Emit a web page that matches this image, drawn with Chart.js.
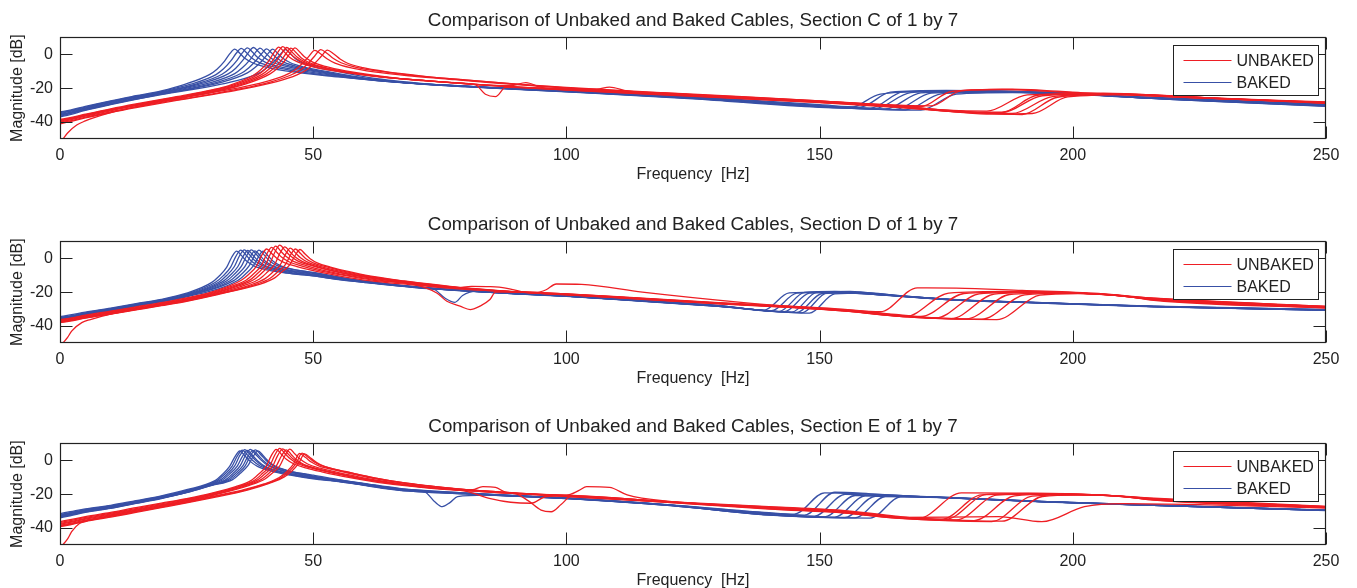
<!DOCTYPE html>
<html>
<head>
<meta charset="utf-8">
<script src="https://cdn.jsdelivr.net/npm/chart.js@4.4.1/dist/chart.umd.min.js"></script>
<style>
  html, body { margin: 0; padding: 0; background: #fff; width: 1357px; height: 588px; overflow: hidden; }
  .panel { position: absolute; left: 0; width: 1357px; height: 187px; }
</style>
</head>
<body>
<div class="panel" style="top:0px"><canvas id="sectionC" width="1357" height="187"></canvas></div>
<div class="panel" style="top:204px"><canvas id="sectionD" width="1357" height="187"></canvas></div>
<div class="panel" style="top:406px"><canvas id="sectionE" width="1357" height="187"></canvas></div>
<script>
// Axis text and ticks
const SECTION_TITLES = [
  'Comparison of Unbaked and Baked Cables, Section C of 1 by 7',
  'Comparison of Unbaked and Baked Cables, Section D of 1 by 7',
  'Comparison of Unbaked and Baked Cables, Section E of 1 by 7'
];
const X_LABEL = 'Frequency  [Hz]';
const Y_LABEL = 'Magnitude [dB]';
const FREQ_TICKS = [0, 50, 100, 150, 200, 250];
const MAG_TICKS = [-40, -20, 0];
const FREQ_RANGE = [0, 250];
const MAG_RANGE = [-50, 10];
const SERIES_NAMES = ['UNBAKED', 'BAKED'];

// Measured responses: each curve is a flat list of frequency [Hz], magnitude [dB] pairs

// Section C
const SECTION_C_UNBAKED = [
  [0,-38.5, 2,-37.4, 5,-35.4, 10,-32.2, 15,-29.3, 20,-26.6, 25,-24.0, 30,-21.0, 33.2,-18.6, 38.2,-12.4, 39.7,-9.0, 41.2,-4.0, 42.2,0.8, 43.2,4.2, 44.2,1.6, 45.2,-1.4, 46.7,-4.2, 49.2,-6.8, 53.2,-9.4, 62,-13.0, 70,-15.0, 78,-16.8, 82,-18.0, 84,-23.6, 86,-25.0, 88,-19.6, 100,-20.4, 125,-24.0, 150,-27.8, 165,-30.8, 180,-34.0, 186,-34.2, 193,-24.2, 206,-23.0, 222,-25.2, 250,-28.2],
  [0,-39, 2,-37.9, 5,-35.8, 10,-32.6, 15,-29.7, 20,-27.0, 25,-24.4, 30,-21.4, 34,-18.4, 39,-12.2, 40.5,-8.8, 42,-3.8, 43,1.1, 44,4.5, 45,1.9, 46,-1.1, 47.5,-4.0, 50,-6.6, 54,-9.2, 63,-13.2, 71,-15.3, 81,-17.6, 89,-18.6, 92,-16.8, 95,-19.6, 100,-20.6, 125,-24.2, 150,-28.0, 165,-30.5, 175,-33.0, 183,-33.6, 191,-24.0, 205,-23.2, 222,-25.4, 250,-28.4],
  [0,-39.5, 2,-38.3, 5,-36.2, 10,-33.0, 15,-30.0, 20,-27.3, 25,-24.7, 30,-21.8, 34.8,-18.2, 39.8,-12.0, 41.3,-8.7, 42.8,-3.9, 43.8,0.6, 44.8,4.0, 45.8,1.4, 46.8,-1.6, 48.3,-4.4, 50.8,-7.0, 54.8,-9.6, 64,-13.5, 72,-15.6, 82,-17.8, 100,-20.8, 106,-20.6, 108.5,-19.4, 112,-21.6, 125,-24.4, 150,-28.2, 165,-30.8, 178,-34.2, 186,-34.5, 194,-24.5, 208,-23.4, 224,-25.6, 250,-28.6],
  [0,-40, 2,-38.7, 5,-36.6, 10,-33.4, 15,-30.4, 20,-27.7, 25,-25.1, 30,-22.2, 35.6,-18.0, 40.6,-11.9, 42.1,-8.6, 43.6,-4.0, 44.6,0.3, 45.6,3.6, 46.6,1.0, 47.6,-2.0, 49.1,-4.7, 51.6,-7.3, 55.6,-9.9, 65,-13.8, 73,-15.9, 83,-18.0, 100,-21.0, 125,-24.6, 150,-28.4, 165,-31.0, 180,-34.6, 188,-35.0, 196,-25.0, 210,-23.6, 226,-25.8, 250,-28.8],
  [0.6,-50, 1.5,-46.5, 3.3,-41.8, 5,-39.4, 6.6,-37.6, 10,-34.5, 15,-31.0, 20,-28.0, 25,-25.4, 30,-22.5, 36.4,-17.8, 41.4,-11.7, 42.9,-8.4, 44.4,-3.8, 45.4,0.4, 46.4,3.8, 47.4,1.2, 48.4,-1.8, 49.9,-4.6, 52.4,-7.2, 56.4,-9.8, 66,-13.9, 74,-16.0, 84,-18.2, 100,-21.1, 125,-24.8, 150,-28.6, 165,-31.4, 176,-33.8, 184,-35.4, 192,-35.0, 199,-25.2, 212,-23.8, 228,-26.0, 250,-29.0],
  [0,-39, 2,-37.9, 5,-35.9, 10,-32.8, 15,-30.0, 20,-27.4, 25,-25.0, 30,-22.6, 35,-20.0, 40.3,-16.5, 44.3,-12.6, 46.3,-9.4, 47.8,-5.6, 49.1,-1.4, 50.3,2.3, 51.5,0.2, 52.8,-2.8, 54.3,-5.2, 57.3,-7.9, 62,-10.4, 70,-13.0, 78,-15.0, 86,-17.0, 100,-20.0, 125,-24.0, 150,-27.8, 162,-29.6, 170,-31.0, 176,-22.0, 186,-20.8, 200,-22.6, 220,-25.2, 250,-28.4],
  [0,-40.5, 2,-39.3, 5,-37.2, 10,-34.0, 15,-31.1, 20,-28.4, 25,-26.0, 30,-23.5, 35,-20.8, 41.5,-16.4, 45.5,-12.4, 47.5,-9.2, 49,-5.4, 50.3,-1.0, 51.5,2.8, 52.7,0.6, 54,-2.5, 55.5,-5.0, 58.5,-7.7, 63,-10.0, 71,-12.9, 80,-15.2, 90,-17.6, 100,-19.6, 125,-23.6, 150,-27.5, 163,-29.8, 172,-30.5, 178,-21.5, 188,-20.6, 202,-22.8, 222,-25.4, 250,-28.6],
  [0,-41, 2,-39.8, 5,-37.6, 10,-34.4, 15,-31.5, 20,-28.8, 25,-26.3, 30,-23.8, 35,-21.2, 42.8,-16.2, 46.8,-12.2, 48.8,-9.0, 50.3,-5.3, 51.6,-1.2, 52.8,2.4, 54,0.3, 55.3,-2.8, 56.8,-5.3, 59.8,-7.9, 64,-10.1, 72,-13.0, 81,-15.4, 91,-17.8, 100,-19.8, 125,-23.8, 150,-27.6, 165,-30.6, 180,-34.2, 190,-35.6, 197,-25.4, 210,-23.6, 226,-25.6, 250,-28.8]
];
const SECTION_C_BAKED = [
  [0,-34, 2,-33, 5,-30.8, 10,-27.5, 15,-24.5, 20,-21.6, 24.5,-17.9, 29.5,-12.0, 31,-8.8, 32.5,-4.0, 33.5,0.2, 34.5,3.0, 35.5,0.6, 36.5,-2.4, 38,-5.0, 40.5,-7.4, 44.5,-9.8, 55,-13.4, 65,-16.2, 75,-18.0, 85,-19.6, 100,-21.3, 125,-25.0, 150,-29.8, 158,-31.2, 164,-22.4, 175,-21.4, 195,-22.4, 215,-25.4, 250,-29.4],
  [0,-34.5, 2,-33.4, 5,-31.2, 10,-27.9, 15,-24.9, 20,-22.0, 25.8,-17.7, 30.8,-12.0, 32.3,-8.6, 33.8,-3.6, 34.8,0.6, 35.8,3.5, 36.8,1.0, 37.8,-2.0, 39.3,-4.8, 41.8,-7.2, 45.8,-9.6, 56,-13.5, 66,-16.4, 76,-18.2, 86,-19.8, 100,-21.5, 125,-25.3, 150,-30.2, 160,-31.8, 166.5,-22.2, 178,-21.5, 196,-22.7, 215,-25.7, 250,-29.7],
  [0,-35, 2,-33.8, 5,-31.6, 10,-28.2, 15,-25.2, 20,-22.4, 27,-17.5, 32,-11.8, 33.5,-8.4, 35,-3.4, 36,0.8, 37,3.8, 38,1.3, 39,-1.8, 40.5,-4.6, 43,-7.0, 47,-9.4, 57,-13.6, 67,-16.6, 77,-18.4, 87,-20.0, 100,-21.7, 125,-25.5, 150,-30.5, 161,-32.0, 168,-22.6, 180,-21.8, 197,-23.0, 216,-26.0, 250,-30.0],
  [0,-35.5, 2,-34.3, 5,-32.0, 10,-28.6, 15,-25.5, 20,-22.7, 28.2,-17.1, 33.2,-11.6, 34.7,-8.2, 36.2,-3.2, 37.2,1.0, 38.2,4.0, 39.2,1.5, 40.2,-1.6, 41.7,-4.4, 44.2,-6.8, 48.2,-9.2, 58,-13.7, 68,-16.8, 78,-18.6, 88,-20.2, 100,-21.8, 125,-25.7, 150,-30.7, 163,-32.3, 170,-22.8, 182,-22.0, 198,-23.2, 217,-26.2, 250,-30.2],
  [0,-36, 2,-34.7, 5,-32.4, 10,-29.0, 15,-25.9, 20,-23.0, 29.5,-16.9, 34.5,-11.4, 36,-8.0, 37.5,-3.3, 38.5,0.7, 39.5,3.6, 40.5,1.1, 41.5,-1.9, 43,-4.6, 45.5,-7.0, 49.5,-9.4, 59,-13.9, 69,-17.0, 79,-18.8, 89,-20.4, 100,-22.0, 125,-25.9, 150,-30.9, 165,-32.6, 172,-23.0, 184,-22.2, 199,-23.4, 218,-26.4, 250,-30.4],
  [0,-36.5, 2,-35.1, 5,-32.8, 10,-29.4, 15,-26.2, 20,-23.3, 30.8,-16.7, 35.8,-11.2, 37.3,-7.9, 38.8,-3.4, 39.8,0.3, 40.8,3.2, 41.8,0.7, 42.8,-2.2, 44.3,-4.8, 46.8,-7.2, 50.8,-9.6, 60,-14.2, 70,-17.3, 80,-19.1, 90,-20.6, 100,-22.1, 125,-26.1, 150,-31.1, 167,-32.8, 174,-23.4, 186,-22.4, 200,-23.6, 219,-26.6, 250,-30.6],
  [0,-37, 2,-35.6, 5,-33.2, 10,-29.8, 15,-26.6, 20,-23.6, 32,-16.5, 37,-11.0, 38.5,-7.8, 40,-3.5, 41,0.1, 42,3.0, 43,0.5, 44,-2.4, 45.5,-5.0, 48,-7.4, 52,-9.8, 61,-14.4, 71,-17.5, 81,-19.3, 91,-20.8, 100,-22.2, 125,-26.3, 150,-31.3, 156,-31.6, 162,-23.5, 176,-21.8, 194,-22.6, 214,-25.4, 250,-29.6],
  [0,-36, 2,-34.7, 5,-32.6, 10,-29.4, 15,-26.5, 20,-23.8, 34.5,-15.9, 39.5,-10.8, 41,-7.6, 42.5,-3.6, 43.5,-0.1, 44.5,2.8, 45.5,0.3, 46.5,-2.6, 48,-5.2, 50.5,-7.6, 54.5,-10.0, 63,-14.6, 73,-17.6, 83,-19.4, 93,-21.0, 100,-21.9, 125,-26.0, 150,-31.0, 170,-33.0, 177,-23.5, 188,-22.6, 201,-23.8, 220,-26.8, 250,-30.8]
];

// Section D
const SECTION_D_UNBAKED = [
  [0,-36.2, 2,-35.3, 5,-33.6, 10,-31.2, 15,-28.7, 20,-26.2, 25,-23.4, 30,-19.8, 35.8,-13.0, 37.3,-9.4, 38.8,-4.6, 39.8,1.6, 40.8,5.5, 41.8,2.8, 42.8,0.0, 44.3,-2.6, 46.8,-4.9, 49.8,-7.2, 54.8,-10.2, 61,-13.2, 70,-15.8, 80,-18.4, 90,-19.8, 100,-21.0, 115,-23.6, 130,-26.2, 145,-28.4, 155,-30.2, 165,-33.2, 170,-34.4, 178.5,-20.8, 190,-19.8, 205,-21.2, 216,-23.8, 250,-28.6],
  [0,-36.6, 2,-35.7, 5,-34.0, 10,-31.6, 15,-29.1, 20,-26.6, 25,-23.8, 30,-20.3, 33.8,-16.6, 36.8,-12.8, 38.3,-9.0, 39.8,-4.2, 40.8,2.4, 41.8,6.5, 42.8,3.6, 43.8,0.6, 45.3,-2.2, 47.8,-4.6, 50.8,-7.0, 55.8,-10.0, 62,-13.0, 70,-15.6, 74.4,-20.5, 76.4,-25.4, 79,-28.3, 81,-30.3, 82.9,-28.3, 84.9,-24.4, 86,-20.0, 90,-19.8, 100,-21.1, 115,-23.7, 130,-26.4, 145,-28.6, 155,-30.4, 165,-33.6, 173,-35.2, 181.5,-21.0, 192,-20.0, 206,-21.4, 216,-24.0, 250,-28.8],
  [0,-37, 2,-36.1, 5,-34.4, 10,-32.0, 15,-29.5, 20,-27.0, 25,-24.2, 30,-20.8, 34.6,-16.4, 37.6,-12.6, 39.1,-8.7, 40.6,-3.8, 41.6,3.0, 42.6,7.2, 43.6,4.2, 44.6,1.2, 46.1,-1.8, 48.6,-4.3, 51.6,-6.8, 56.6,-9.9, 63,-12.9, 72,-16.0, 78,-17.6, 81.3,-16.6, 85,-16.8, 88,-17.6, 92,-20.2, 100,-21.2, 115,-23.8, 130,-26.5, 145,-28.8, 155,-30.6, 162,-31.6, 169.3,-17.5, 177,-17.6, 190,-19.0, 205,-20.8, 216,-23.6, 250,-28.4],
  [0,-37.4, 2,-36.5, 5,-34.8, 10,-32.4, 15,-29.9, 20,-27.4, 25,-24.6, 30,-21.2, 35.4,-16.2, 38.4,-12.4, 39.9,-8.5, 41.4,-3.5, 42.4,3.4, 43.4,7.8, 44.4,4.8, 45.4,1.6, 46.9,-1.5, 49.4,-4.1, 52.4,-6.6, 57.4,-9.8, 64,-12.8, 73,-16.0, 84,-19.0, 94,-20.2, 96,-18.6, 98,-15.2, 103,-15.4, 115,-20.0, 135,-26.2, 145,-28.7, 155,-30.8, 165,-33.8, 176,-35.6, 184.5,-21.2, 194,-20.2, 207,-21.6, 216,-24.2, 250,-29.0],
  [0.6,-50, 1.5,-46.8, 2.3,-43.0, 4.3,-38.0, 6,-36.2, 10,-33.0, 15,-30.2, 20,-27.6, 25,-24.9, 30,-21.6, 36.4,-16.0, 39.4,-12.2, 40.9,-8.3, 42.4,-3.6, 43.4,2.8, 44.4,6.8, 45.4,3.9, 46.4,0.9, 47.9,-2.0, 50.4,-4.6, 53.4,-7.0, 58.4,-10.1, 65,-13.0, 74,-16.2, 85,-19.0, 100,-21.3, 115,-23.9, 130,-26.6, 145,-28.9, 155,-30.9, 168,-34.4, 179,-35.8, 187.5,-21.4, 197,-20.4, 208,-21.8, 216,-24.4, 250,-29.2],
  [0,-37.8, 2,-36.9, 5,-35.2, 10,-32.8, 15,-30.3, 20,-27.8, 25,-25.1, 30,-21.9, 37.5,-15.8, 40.5,-12.0, 42,-8.2, 43.5,-3.8, 44.5,2.2, 45.5,6.0, 46.5,3.2, 47.5,0.3, 49,-2.4, 51.5,-4.9, 54.5,-7.2, 59.5,-10.3, 66,-13.1, 75,-16.3, 86,-19.1, 100,-21.4, 115,-24.0, 130,-26.7, 145,-29.0, 155,-31.0, 168,-34.8, 182,-36.0, 190.5,-21.6, 199,-20.6, 209,-22.0, 216,-24.6, 250,-29.3],
  [0,-38, 2,-37.1, 5,-35.4, 10,-33.0, 15,-30.5, 20,-28.0, 25,-25.4, 30,-22.2, 38.5,-15.6, 41.5,-11.8, 43,-8.0, 44.5,-3.8, 45.5,1.8, 46.5,5.5, 47.5,2.8, 48.5,-0.1, 50,-2.7, 52.5,-5.0, 55.5,-7.3, 60.5,-10.4, 67,-13.2, 76,-16.4, 87,-19.2, 100,-21.5, 115,-24.1, 130,-26.8, 145,-29.1, 155,-31.1, 167,-34.6, 185,-36.2, 193.5,-21.8, 201,-20.8, 210,-22.2, 216,-24.8, 250,-29.4],
  [0,-37.2, 2,-36.3, 5,-34.6, 10,-32.2, 15,-29.8, 20,-27.4, 25,-24.9, 30,-21.8, 39.4,-15.4, 42.4,-11.6, 43.9,-7.8, 45.4,-3.7, 46.4,1.5, 47.4,5.2, 48.4,2.5, 49.4,-0.3, 50.9,-2.9, 53.4,-5.2, 56.4,-7.5, 61.4,-10.6, 68,-13.4, 77,-16.6, 88,-19.4, 100,-21.6, 115,-24.2, 130,-26.9, 145,-29.2, 155,-31.2, 163,-33.6, 167,-34.4, 175.5,-20.6, 188,-19.6, 204,-21.0, 216,-23.6, 250,-28.4]
];
const SECTION_D_BAKED = [
  [0,-34.5, 2,-33.5, 5,-31.8, 10,-29.4, 15,-26.8, 20,-24.3, 25,-20.6, 29.9,-14.4, 31.4,-10.6, 32.9,-5.4, 33.9,0.6, 34.9,4.2, 35.9,1.4, 36.9,-1.8, 38.4,-4.6, 40.9,-6.9, 44.9,-8.8, 50,-10.4, 55,-12.6, 60,-14.2, 70,-17.2, 80,-19.2, 90,-20.8, 100,-22.1, 115,-24.9, 130,-27.8, 139,-30.6, 144,-20.4, 151,-20.0, 160,-21.2, 176,-24.3, 195,-26.3, 216,-28.3, 250,-30.3],
  [0,-35, 2,-34, 5,-32.2, 10,-29.7, 15,-27.1, 20,-24.6, 25,-21.1, 30.7,-14.2, 32.2,-10.4, 33.7,-5.2, 34.7,1.0, 35.7,4.8, 36.7,2.0, 37.7,-1.4, 39.2,-4.3, 41.7,-6.7, 45.7,-9.0, 50,-10.4, 55,-12.4, 60,-14.2, 70,-17.3, 80,-19.3, 90,-20.9, 100,-22.2, 115,-25.0, 130,-28.0, 140.5,-31.0, 145.5,-20.6, 152,-20.2, 161,-21.4, 176,-24.4, 195,-26.4, 216,-28.4, 250,-30.4],
  [0,-35.3, 2,-34.3, 5,-32.5, 10,-30.0, 15,-27.4, 20,-24.9, 25,-21.5, 31.4,-14.0, 32.9,-10.2, 34.4,-5.0, 35.4,1.2, 36.4,5.0, 37.4,2.2, 38.4,-1.2, 39.9,-4.2, 42.4,-6.6, 46.4,-8.8, 50,-10.1, 55,-12.2, 60,-14.0, 70,-17.0, 74,-18.6, 76,-23.5, 78,-26.0, 79.5,-22.0, 82,-19.6, 90,-20.9, 100,-22.3, 115,-25.1, 130,-28.1, 142,-31.4, 147,-20.2, 153,-19.6, 162,-21.6, 176,-24.4, 195,-26.4, 216,-28.5, 250,-30.5],
  [0,-35.6, 2,-34.6, 5,-32.8, 10,-30.3, 15,-27.7, 20,-25.1, 25,-21.8, 32.1,-13.8, 33.6,-10.0, 35.1,-5.0, 36.1,0.8, 37.1,4.6, 38.1,1.8, 39.1,-1.5, 40.6,-4.4, 43.1,-6.6, 47.1,-8.7, 50,-9.8, 55,-12.0, 60,-13.9, 70,-17.1, 80,-19.3, 90,-21.0, 100,-22.4, 115,-25.2, 130,-28.2, 143,-31.6, 148,-20.6, 154,-20.2, 163,-21.8, 176,-24.4, 195,-26.5, 216,-28.6, 250,-30.6],
  [0,-35.8, 2,-34.8, 5,-33.0, 10,-30.5, 15,-27.9, 20,-25.3, 25,-22.1, 32.8,-13.6, 34.3,-9.8, 35.8,-4.8, 36.8,1.2, 37.8,5.0, 38.8,2.2, 39.8,-1.1, 41.3,-4.1, 43.8,-6.4, 47.8,-8.5, 50,-9.4, 55,-11.8, 60,-13.8, 70,-17.0, 80,-19.2, 90,-21.0, 100,-22.4, 115,-25.3, 130,-28.3, 144.5,-31.8, 149.5,-20.0, 156,-19.6, 164,-21.9, 176,-24.5, 195,-26.5, 216,-28.6, 250,-30.6],
  [0,-36, 2,-35.0, 5,-33.2, 10,-30.7, 15,-28.1, 20,-25.5, 25,-22.4, 33.5,-13.4, 35,-9.7, 36.5,-4.9, 37.5,0.6, 38.5,4.4, 39.5,1.6, 40.5,-1.6, 42,-4.4, 44.5,-6.5, 48.5,-8.4, 50,-9.0, 55,-11.6, 60,-13.6, 70,-16.9, 80,-19.2, 90,-21.0, 100,-22.5, 115,-25.4, 130,-28.4, 145.5,-32.0, 150.5,-20.8, 157,-20.4, 165,-22.0, 176,-24.5, 195,-26.6, 216,-28.7, 250,-30.7],
  [0,-35.5, 2,-34.5, 5,-32.7, 10,-30.2, 15,-27.6, 20,-25.1, 25,-22.2, 34.3,-13.2, 35.8,-9.5, 37.3,-4.7, 38.3,1.0, 39.3,4.8, 40.3,2.0, 41.3,-1.3, 42.8,-4.2, 45.3,-6.3, 49.3,-8.2, 55,-11.3, 60,-13.5, 70,-16.8, 80,-19.0, 90,-20.8, 100,-22.3, 115,-25.2, 130,-28.3, 146.5,-32.2, 151.5,-20.4, 158,-20.2, 166,-22.2, 176,-24.4, 195,-26.4, 216,-28.4, 250,-30.4],
  [0,-36.2, 2,-35.2, 5,-33.4, 10,-30.9, 15,-28.3, 20,-25.7, 25,-22.8, 35.1,-13.1, 36.6,-9.4, 38.1,-4.8, 39.1,0.4, 40.1,4.2, 41.1,1.4, 42.1,-1.8, 43.6,-4.5, 46.1,-6.5, 50.1,-8.4, 55,-11.0, 60,-13.4, 70,-16.8, 80,-19.1, 90,-20.9, 100,-22.4, 115,-25.3, 130,-28.4, 148,-32.4, 153,-21.0, 159,-20.6, 167,-22.4, 176,-24.5, 195,-26.6, 216,-28.6, 250,-30.6]
];

// Section E
const SECTION_E_UNBAKED = [
  [0,-36.2, 2,-35.1, 5,-33.3, 10,-30.8, 15,-28.0, 20,-25.3, 25,-22.6, 30,-19.4, 34.7,-15.6, 37.7,-12.0, 39.2,-8.2, 40.7,-3.6, 41.7,2.6, 42.7,6.5, 43.7,3.6, 44.7,0.6, 46.2,-2.2, 48.7,-4.6, 51.7,-6.8, 56.7,-10.0, 62.7,-13.0, 70,-15.6, 80,-17.8, 81.5,-17.4, 83.5,-15.6, 86,-16.0, 88,-18.8, 100,-20.6, 120,-24.4, 140,-27.4, 155,-29.8, 165,-33.0, 169.6,-34.2, 178,-19.2, 190,-19.4, 205,-20.4, 216,-22.4, 250,-27.2],
  [0,-36.8, 2,-35.7, 5,-33.8, 10,-31.3, 15,-28.5, 20,-25.8, 25,-23.0, 30,-19.8, 35.4,-15.4, 38.4,-11.8, 39.9,-8.0, 41.4,-3.4, 42.4,3.0, 43.4,7.0, 44.4,4.0, 45.4,1.0, 46.9,-1.9, 49.4,-4.4, 52.4,-6.6, 57.4,-9.8, 63.4,-12.8, 71,-15.6, 81,-18.0, 90,-19.8, 92.5,-24.0, 95,-29.4, 97,-30.4, 99,-26.0, 101,-21.2, 110,-22.4, 120,-24.6, 140,-27.6, 155,-30.0, 165,-33.4, 174,-35.0, 182,-20.4, 192,-19.8, 206,-20.6, 216,-22.8, 250,-27.4],
  [0,-37.4, 2,-36.3, 5,-34.4, 10,-31.8, 15,-29.0, 20,-26.2, 25,-23.4, 30,-20.2, 36,-15.2, 39,-11.6, 40.5,-7.9, 42,-3.4, 43,2.9, 44,6.8, 45,3.9, 46,0.9, 47.5,-2.0, 50,-4.5, 53,-6.7, 58,-9.9, 64,-12.9, 72,-15.8, 82,-18.2, 92,-19.9, 100,-20.6, 102.5,-17.8, 104,-15.6, 108.5,-16.0, 112,-20.4, 120,-24.2, 140,-27.8, 155,-30.2, 165,-33.6, 177,-35.2, 185,-20.6, 194,-20.0, 207,-20.8, 216,-23.0, 250,-27.6],
  [0,-37.8, 2,-36.7, 5,-34.8, 10,-32.2, 15,-29.4, 20,-26.6, 25,-23.8, 30,-20.6, 36.7,-15.0, 39.7,-11.4, 41.2,-7.8, 42.7,-3.4, 43.7,2.4, 44.7,6.2, 45.7,3.3, 46.7,0.3, 48.2,-2.5, 50.7,-4.9, 53.7,-7.0, 58.7,-10.2, 64.7,-13.2, 72,-16.0, 80,-18.2, 85,-22.6, 89,-24.8, 93,-25.4, 96,-21.4, 100,-21.0, 120,-24.6, 140,-28.2, 155,-30.6, 165,-33.8, 180.5,-35.6, 188.5,-21.0, 196,-20.2, 208,-21.0, 216,-23.2, 250,-27.8],
  [0.6,-49.8, 1.5,-46.5, 2.3,-42.2, 3.9,-37.2, 6,-35.2, 10,-32.6, 15,-29.6, 20,-26.8, 25,-24.0, 30,-20.8, 37.4,-14.8, 40.4,-11.2, 41.9,-7.6, 43.4,-3.3, 44.4,2.7, 45.4,6.6, 46.4,3.7, 47.4,0.7, 48.9,-2.2, 51.4,-4.7, 54.4,-6.9, 59.4,-10.1, 65.4,-13.1, 73,-16.0, 84,-18.6, 100,-21.2, 120,-24.8, 140,-28.4, 155,-30.8, 165,-34.0, 184,-36.2, 192,-21.2, 200,-20.4, 209,-21.2, 216,-23.4, 250,-28.0],
  [0,-38.4, 2,-37.3, 5,-35.4, 10,-32.8, 15,-30.0, 20,-27.2, 25,-24.4, 30,-21.4, 36,-17.6, 40.3,-14.0, 43.3,-10.2, 44.8,-6.6, 46.1,-2.2, 47.3,4.0, 48.5,1.6, 49.7,-1.2, 51.2,-3.4, 53.7,-5.4, 56.7,-7.4, 61.3,-10.4, 67.3,-13.4, 75,-16.0, 85,-18.4, 100,-21.0, 120,-24.4, 140,-28.0, 155,-30.4, 165,-33.6, 175,-34.8, 183,-20.2, 193,-19.6, 205,-20.4, 216,-22.6, 250,-27.4],
  [0,-38.8, 2,-37.7, 5,-35.8, 10,-33.2, 15,-30.4, 20,-27.6, 25,-24.8, 30,-21.8, 36.5,-17.6, 40.8,-13.8, 43.8,-10.0, 45.3,-6.4, 46.6,-2.0, 47.8,4.2, 49,1.8, 50.2,-1.0, 51.7,-3.2, 54.2,-5.2, 57.2,-7.2, 61.8,-10.2, 67.8,-13.2, 75,-15.8, 85,-18.4, 100,-21.2, 120,-24.6, 140,-28.6, 155,-31.0, 165,-34.2, 186,-36.0, 194,-21.4, 201,-20.6, 210,-21.4, 216,-23.6, 250,-28.0],
  [0,-39.2, 2,-38.1, 5,-36.2, 10,-33.6, 15,-30.8, 20,-28.0, 25,-25.2, 30,-22.2, 37,-17.6, 41.3,-13.6, 44.3,-9.8, 45.8,-6.3, 47.1,-2.0, 48.3,3.8, 49.5,1.4, 50.7,-1.4, 52.2,-3.6, 54.7,-5.6, 57.7,-7.6, 62.3,-10.5, 68.3,-13.5, 76,-16.2, 86,-18.8, 100,-21.4, 120,-24.8, 140,-28.8, 155,-31.2, 165,-33.8, 185.4,-33.3, 193.9,-36.3, 202.3,-27.4, 210,-25.6, 225,-26.2, 250,-28.2]
];
const SECTION_E_BAKED = [
  [0,-31.5, 2,-30.4, 5,-28.7, 10,-26.6, 15,-23.8, 20,-21.0, 25,-17.4, 30.5,-12.2, 32,-8.5, 33.5,-3.6, 34.5,1.9, 35.5,5.5, 36.5,2.7, 37.5,-0.5, 39,-3.6, 41.5,-6.2, 45.5,-8.8, 50,-11.0, 55,-12.6, 60,-14.8, 67,-17.8, 80,-19.9, 90,-21.2, 100,-22.4, 120,-26.2, 140,-31.0, 145,-31.8, 151,-19.2, 157,-19.6, 170,-21.4, 195,-24.4, 216,-26.4, 250,-29.4],
  [0,-32, 2,-30.9, 5,-29.1, 10,-27.0, 15,-24.2, 20,-21.4, 25,-17.8, 31,-12.0, 32.5,-8.3, 34,-3.4, 35,2.4, 36,6.0, 37,3.2, 38,0.0, 39.5,-3.4, 42,-6.1, 46,-8.7, 50,-10.7, 55,-12.4, 60,-14.6, 67,-17.6, 80,-19.8, 90,-21.1, 100,-22.4, 120,-26.3, 140,-31.3, 147,-32.4, 153,-18.9, 160,-19.8, 170,-21.5, 195,-24.5, 216,-26.5, 250,-29.5],
  [0,-32.4, 2,-31.2, 5,-29.4, 10,-27.3, 15,-24.5, 20,-21.7, 25,-18.1, 31.5,-11.9, 33,-8.2, 34.5,-3.3, 35.5,2.7, 36.5,6.3, 37.5,3.5, 38.5,0.3, 40,-3.3, 42.5,-6.0, 46.5,-8.6, 50,-10.5, 55,-12.3, 60,-14.5, 67,-17.4, 72,-18.6, 74,-24.5, 75.5,-27.4, 77,-25.0, 78.5,-21.5, 84,-20.6, 90,-21.2, 100,-22.5, 120,-26.4, 140,-31.6, 149,-33.0, 155,-20.2, 162,-20.6, 171,-21.6, 195,-24.6, 216,-26.6, 250,-29.6],
  [0,-32.8, 2,-31.6, 5,-29.8, 10,-27.6, 15,-24.8, 20,-22.0, 25,-18.4, 30,-14.0, 32,-11.8, 33.5,-8.1, 35,-3.4, 36,2.2, 37,5.8, 38,3.0, 39,-0.2, 40.5,-3.6, 43,-6.2, 47,-8.7, 50,-10.3, 55,-12.2, 60,-14.4, 67,-17.3, 80,-19.7, 90,-21.2, 100,-22.6, 120,-26.5, 140,-31.8, 151,-33.4, 157,-20.8, 163,-21.0, 172,-21.8, 195,-24.6, 216,-26.6, 250,-29.6],
  [0,-33.2, 2,-32.0, 5,-30.1, 10,-27.9, 15,-25.0, 20,-22.2, 25,-18.7, 30,-14.3, 32.6,-11.7, 34.1,-8.0, 35.6,-3.2, 36.6,2.8, 37.6,6.4, 38.6,3.6, 39.6,0.4, 41.1,-3.2, 43.6,-5.9, 47.6,-8.4, 50,-9.9, 55,-12.0, 60,-14.2, 67,-17.2, 80,-19.6, 90,-21.1, 100,-22.6, 120,-26.6, 140,-32.0, 153,-33.6, 159,-21.0, 165,-21.2, 173,-21.9, 195,-24.7, 216,-26.7, 250,-29.7],
  [0,-33.6, 2,-32.4, 5,-30.5, 10,-28.2, 15,-25.3, 20,-22.4, 25,-18.9, 30,-14.5, 33.1,-11.6, 34.6,-7.9, 36.1,-3.3, 37.1,2.3, 38.1,5.9, 39.1,3.1, 40.1,-0.1, 41.6,-3.5, 44.1,-6.1, 48.1,-8.5, 50,-9.6, 55,-11.8, 60,-14.0, 67,-17.0, 80,-19.5, 90,-21.0, 100,-22.5, 120,-26.6, 140,-32.2, 155,-33.8, 161,-21.3, 167,-21.4, 174,-22.0, 195,-24.6, 216,-26.6, 250,-29.6],
  [0,-34, 2,-32.8, 5,-30.8, 10,-28.4, 15,-25.5, 20,-22.6, 25,-19.1, 30,-14.7, 33.6,-11.5, 35.1,-7.8, 36.6,-3.1, 37.6,2.6, 38.6,6.2, 39.6,3.4, 40.6,0.2, 42.1,-3.3, 44.6,-5.9, 48.6,-8.3, 50,-9.3, 55,-11.6, 60,-13.8, 67,-16.8, 80,-19.4, 90,-20.9, 100,-22.4, 120,-26.5, 140,-32.3, 157,-34.0, 163,-21.4, 169,-21.5, 175,-22.0, 195,-24.5, 216,-26.5, 250,-29.5],
  [0,-33.4, 2,-32.2, 5,-30.3, 10,-28.0, 15,-25.2, 20,-22.4, 25,-19.0, 30,-14.8, 34.1,-11.4, 35.6,-7.7, 37.1,-3.2, 38.1,2.0, 39.1,5.6, 40.1,2.8, 41.1,-0.4, 42.6,-3.6, 45.1,-6.2, 49.1,-8.4, 50,-8.8, 55,-11.4, 60,-13.6, 67,-16.6, 80,-19.3, 90,-20.8, 100,-22.3, 120,-26.4, 140,-32.4, 160,-34.2, 166,-21.6, 171,-21.6, 177,-22.2, 195,-24.6, 216,-26.6, 250,-29.6]
];

// Styling
const FONT = "'Liberation Sans', Arial, Helvetica, sans-serif";
const INK = '#222222';
const UNBAKED_COLOR = 'rgb(238, 30, 36)';
const BAKED_COLOR = 'rgb(56, 80, 166)';

Chart.defaults.font.family = FONT;
Chart.defaults.color = INK;

function toPoints(flat) {
  const pts = [];
  for (let i = 0; i < flat.length; i += 2) pts.push({ x: flat[i], y: flat[i + 1] });
  return pts;
}

// Closed axes box with inward tick marks on all four sides
const axesBox = {
  id: 'axesBox',
  afterDatasetsDraw(chart) {
    const { ctx, chartArea: a, scales: { x, y } } = chart;
    const L = Math.round(a.left) + 0.5, R = Math.round(a.right) - 0.5;
    const T = Math.round(a.top) + 0.5, B = Math.round(a.bottom) - 0.5;
    const len = 12;
    ctx.save();
    ctx.strokeStyle = INK;
    ctx.lineWidth = 1;
    ctx.beginPath();
    x.ticks.forEach(t => {
      const px = Math.round(x.getPixelForValue(t.value)) + 0.5;
      ctx.moveTo(px, B); ctx.lineTo(px, B - len);
      ctx.moveTo(px, T); ctx.lineTo(px, T + len);
    });
    y.ticks.forEach(t => {
      const py = Math.round(y.getPixelForValue(t.value)) + 0.5;
      ctx.moveTo(L, py); ctx.lineTo(L + len, py);
      ctx.moveTo(R, py); ctx.lineTo(R - len, py);
    });
    ctx.stroke();
    ctx.lineWidth = 1.2;
    ctx.strokeRect(L, T, R - L, B - T);
    ctx.restore();
  }
};

// Boxed legend in the upper right corner of the plot area
const boxedLegend = {
  id: 'boxedLegend',
  afterDraw(chart) {
    const { ctx, chartArea: a } = chart;
    const entries = [];
    chart.data.datasets.forEach(ds => {
      if (!entries.some(e => e.label === ds.label)) entries.push({ label: ds.label, color: ds.borderColor });
    });
    const w = 145, h = 50;
    const x0 = Math.round(a.right - 8 - w) + 0.5;
    const y0 = Math.round(a.top + 8) + 0.5;
    ctx.save();
    ctx.fillStyle = '#ffffff';
    ctx.fillRect(x0, y0, w, h);
    ctx.strokeStyle = INK;
    ctx.lineWidth = 1;
    ctx.strokeRect(x0, y0, w, h);
    ctx.font = '16px ' + FONT;
    ctx.textBaseline = 'middle';
    ctx.textAlign = 'left';
    entries.forEach((e, i) => {
      const yy = Math.round(y0 + 14 + i * 22.4) + 0.5;
      ctx.strokeStyle = e.color;
      ctx.lineWidth = 1;
      ctx.beginPath();
      ctx.moveTo(x0 + 10, yy);
      ctx.lineTo(x0 + 58, yy);
      ctx.stroke();
      ctx.fillStyle = INK;
      ctx.fillText(e.label, x0 + 63, yy + 1);
    });
    ctx.restore();
  }
};

function drawSection(canvasId, title, unbaked, baked) {
  const datasets = [];
  unbaked.forEach(c => datasets.push({ label: SERIES_NAMES[0], data: toPoints(c), borderColor: UNBAKED_COLOR }));
  baked.forEach(c => datasets.push({ label: SERIES_NAMES[1], data: toPoints(c), borderColor: BAKED_COLOR }));

  new Chart(document.getElementById(canvasId), {
    type: 'line',
    data: { datasets },
    options: {
      responsive: false,
      animation: false,
      events: [],
      layout: { padding: { left: 0, right: 31, top: 0, bottom: 0 } },
      elements: {
        point: { radius: 0 },
        line: { borderWidth: 1.3, cubicInterpolationMode: 'monotone', fill: false }
      },
      plugins: {
        legend: { display: false },
        tooltip: { enabled: false },
        title: {
          display: true,
          text: title,
          fullSize: false,
          color: INK,
          font: { size: 18.8, weight: 'normal' },
          padding: { top: 9.2, bottom: 5.6 }
        }
      },
      scales: {
        x: {
          type: 'linear',
          min: FREQ_RANGE[0],
          max: FREQ_RANGE[1],
          afterBuildTicks: s => { s.ticks = FREQ_TICKS.map(v => ({ value: v })); },
          afterFit: s => { s.height = 48.1; },
          grid: { display: false, drawTicks: false },
          border: { display: false },
          ticks: { color: INK, font: { size: 16 }, padding: 7, maxRotation: 0, autoSkip: false },
          title: { display: true, text: X_LABEL, color: INK, font: { size: 16 }, padding: { top: 0, bottom: 2.4 } }
        },
        y: {
          type: 'linear',
          min: MAG_RANGE[0],
          max: MAG_RANGE[1],
          afterBuildTicks: s => { s.ticks = MAG_TICKS.map(v => ({ value: v })); },
          afterFit: s => { s.width = 60; },
          grid: { display: false, drawTicks: false },
          border: { display: false },
          ticks: { color: INK, font: { size: 16 }, padding: 7 },
          title: { display: true, text: Y_LABEL, color: INK, font: { size: 16 }, padding: { top: 8, bottom: 0 } }
        }
      }
    },
    plugins: [axesBox, boxedLegend]
  });
}

drawSection('sectionC', SECTION_TITLES[0], SECTION_C_UNBAKED, SECTION_C_BAKED);
drawSection('sectionD', SECTION_TITLES[1], SECTION_D_UNBAKED, SECTION_D_BAKED);
drawSection('sectionE', SECTION_TITLES[2], SECTION_E_UNBAKED, SECTION_E_BAKED);
</script>
</body>
</html>
